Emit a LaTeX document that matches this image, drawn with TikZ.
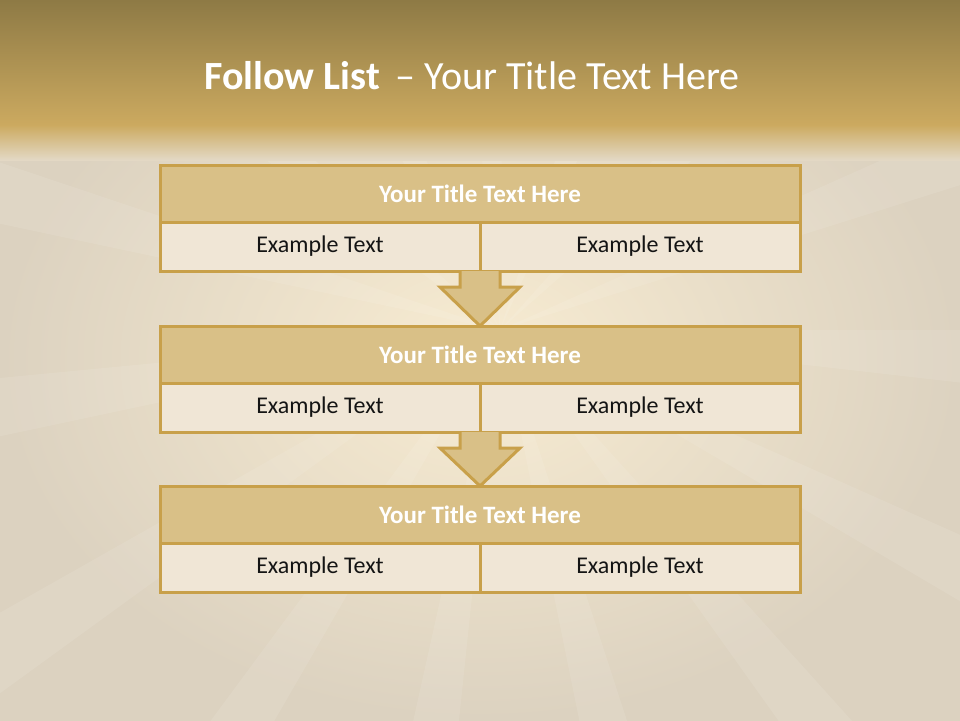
\documentclass[tikz,border=0pt]{standalone}
\usepackage{fontspec}
\setmainfont{Carlito}
\usepackage{xcolor}
\usetikzlibrary{positioning,calc}
\definecolor{dorado}{RGB}{200,160,74}
\definecolor{oroclaro}{RGB}{217,192,135}
\definecolor{crema}{RGB}{240,230,214}
\definecolor{bandaosc}{RGB}{142,122,69}
\definecolor{bandaclara}{RGB}{204,170,96}
\definecolor{fondoclaro}{RGB}{248,236,210}
\definecolor{fondogris}{RGB}{220,210,192}
\definecolor{tinta}{RGB}{20,20,20}

\tikzset{
  titulo/.style={draw=dorado, line width=3pt, fill=oroclaro, minimum width=640pt,
    minimum height=57pt, inner sep=0pt, outer sep=0pt, text=white,
    font=\fontsize{25}{30}\selectfont\bfseries},
  celda/.style={draw=dorado, line width=3pt, fill=crema, minimum width=320pt,
    minimum height=49pt, inner sep=0pt, outer sep=0pt, text=tinta,
    font=\fontsize{24}{29}\selectfont},
  flecha/.style={draw=dorado, line width=3pt, fill=oroclaro, line join=miter}
}

\begin{document}
\begin{tikzpicture}[x=1pt, y=-1pt]
  \useasboundingbox (0,0) rectangle (960,720);
  % fondo
  \shade[inner color=fondoclaro, outer color=fondogris] (0,0) rectangle (960,720);
  \begin{scope}
    \clip (0,125) rectangle (960,720);
    \foreach \a in {0,24,...,336}
      \fill[white, opacity=0.09] (500,330) -- ++(\a:1400) -- ++(\a+90:160) -- cycle;
  \end{scope}
  \shade[top color=bandaosc, bottom color=bandaclara] (0,0) rectangle (960,126);
  \shade[top color=bandaclara, bottom color=fondogris!75!fondoclaro] (0,125) rectangle (960,160);

  \node[text=white, font=\fontsize{40}{46}\selectfont] (encabezado) at (472,76)
    {\textbf{Follow List} \,– Your Title Text Here};

  % primera lista
  \node[titulo] (t1) at (480,193.5) {Your Title Text Here};
  \node[celda, anchor=north west] (a1) at (t1.south west) {Example Text};
  \node[celda, anchor=north east] (b1) at (t1.south east) {Example Text};

  % segunda lista
  \node[titulo] (t2) at (480,354.5) {Your Title Text Here};
  \node[celda, anchor=north west] (a2) at (t2.south west) {Example Text};
  \node[celda, anchor=north east] (b2) at (t2.south east) {Example Text};

  % tercera lista
  \node[titulo] (t3) at (480,514.5) {Your Title Text Here};
  \node[celda, anchor=north west] (a3) at (t3.south west) {Example Text};
  \node[celda, anchor=north east] (b3) at (t3.south east) {Example Text};

  % flechas
  \draw[flecha] ($(a1.south east)+(-20,0)$) -- ($(a1.south east)+(-20,16)$)
    -- ($(a1.south east)+(-40,16)$) -- (t2.north) -- ($(a1.south east)+(40,16)$)
    -- ($(a1.south east)+(20,16)$) -- ($(a1.south east)+(20,0)$);
  \draw[flecha] ($(a2.south east)+(-20,0)$) -- ($(a2.south east)+(-20,16)$)
    -- ($(a2.south east)+(-40,16)$) -- (t3.north) -- ($(a2.south east)+(40,16)$)
    -- ($(a2.south east)+(20,16)$) -- ($(a2.south east)+(20,0)$);
\end{tikzpicture}
\end{document}
